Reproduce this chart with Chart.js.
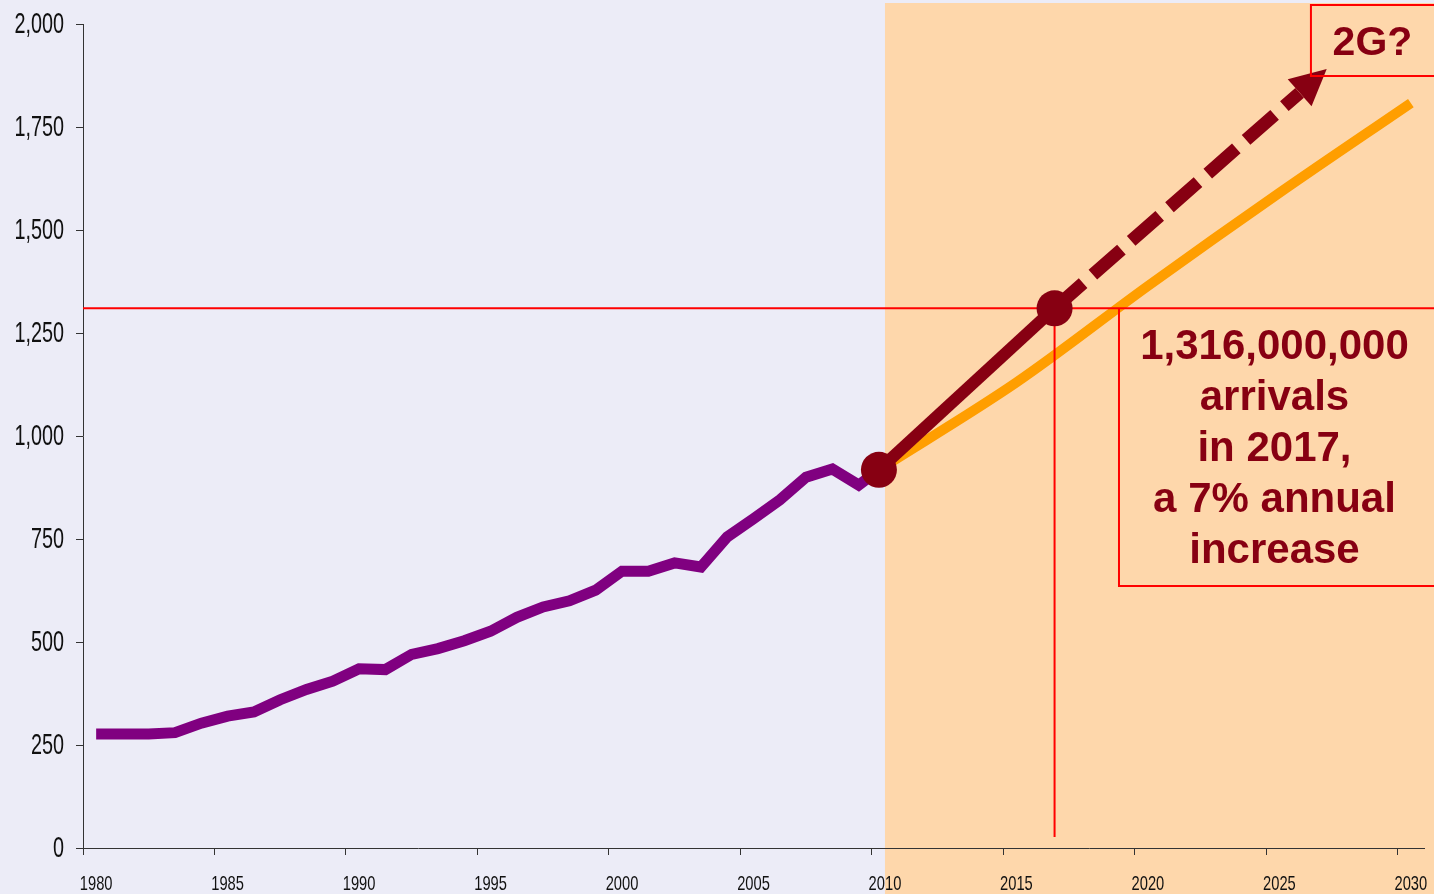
<!DOCTYPE html>
<html>
<head>
<meta charset="utf-8">
<script src="https://cdn.jsdelivr.net/npm/chart.js@4"></script>
<style>
  html, body { margin: 0; padding: 0; background: #ECECF7; }
  #caja { width: 1434px; height: 894px; position: relative; }
</style>
</head>
<body>
<div id="caja"><canvas id="grafico"></canvas></div>
<script>
// Llegadas de turistas internacionales (millones), 1980–2009 + proyecciones
const anios     = [1980, 1981, 1982, 1983, 1984, 1985, 1986, 1987, 1988, 1989,
                   1990, 1991, 1992, 1993, 1994, 1995, 1996, 1997, 1998, 1999,
                   2000, 2001, 2002, 2003, 2004, 2005, 2006, 2007, 2008, 2009];
const llegadas  = [277, 277, 277, 280, 303, 320, 330, 360, 385, 405,
                   435, 433, 470, 484, 503, 526, 560, 585, 600, 626,
                   672, 672, 692, 682, 755, 799, 845, 900, 920, 881];

// punto de partida (2010) y previsión tendencial
const inicio2010     = { x: 2010.27, y: 918 };
const aniosPrev      = [2015, 2020, 2025, 2030];
const previsionLenta = [1130, 1364, 1590, 1808];

// escenario 7 % anual
const meta2017    = { x: 2016.95, y: 1310 };
const flechaBase  = { x: 2026.27, y: 1833 };
const flechaPunta = { x: 2027.3, y: 1891 };

// ejes
const ticksY = [0, 250, 500, 750, 1000, 1250, 1500, 1750, 2000];

const textoCaja = ['1,316,000,000', 'arrivals', 'in 2017,', 'a 7% annual', 'increase'];

const GRANATE = '#870012';
const ROJO    = '#FF0000';

// los años se dibujan a mitad de intervalo (x + 0.5)
const serieHist = anios.map((a, i) => ({ x: a + 0.5, y: llegadas[i] }));
serieHist.push(inicio2010);
const seriePrev = [inicio2010].concat(aniosPrev.map((a, i) => ({ x: a + 0.5, y: previsionLenta[i] })));

// ───────────────────────── fondo de la zona de previsión
const fondo = {
  id: 'fondo',
  beforeDraw (chart) {
    const { ctx, scales: { x } } = chart;
    const x0 = x.getPixelForValue(2010.5);
    ctx.save();
    ctx.fillStyle = '#FED7AB';
    ctx.fillRect(x0, 3, chart.width - x0, chart.height - 3);
    ctx.restore();
  }
};

// ───────────────────────── etiquetas de ejes (letra estrecha)
function textoEstrecho (ctx, txt, px, py, escala) {
  ctx.save();
  ctx.translate(px, py);
  ctx.scale(escala, 1);
  ctx.fillText(txt, 0, 0);
  ctx.restore();
}

const etiquetas = {
  id: 'etiquetas',
  afterDraw (chart) {
    const { ctx, scales: { x, y } } = chart;
    ctx.save();
    ctx.fillStyle = '#111';
    ctx.textBaseline = 'alphabetic';

    ctx.font = '30px "Liberation Sans", Arial, sans-serif';
    ctx.textAlign = 'right';
    y.ticks.forEach(t => {
      textoEstrecho(ctx, t.value.toLocaleString('en-US'), 64, y.getPixelForValue(t.value) + 9, 0.66);
    });

    ctx.font = '21px "Liberation Sans", Arial, sans-serif';
    ctx.textAlign = 'center';
    x.ticks.forEach(t => {
      textoEstrecho(ctx, String(t.value), x.getPixelForValue(t.value + 0.5), 890, 0.7);
    });
    ctx.restore();
  }
};

// ───────────────────────── punta de flecha + cuadros de texto
const anotaciones = {
  id: 'anotaciones',
  afterDraw (chart) {
    const { ctx, scales: { x, y } } = chart;
    ctx.save();

    // punta de flecha
    const bx = x.getPixelForValue(flechaBase.x), by = y.getPixelForValue(flechaBase.y);
    const tx = x.getPixelForValue(flechaPunta.x), ty = y.getPixelForValue(flechaPunta.y);
    const ang = Math.atan2(ty - by, tx - bx);
    const w = 18;
    ctx.fillStyle = GRANATE;
    ctx.beginPath();
    ctx.moveTo(tx, ty);
    ctx.lineTo(bx + Math.sin(ang) * w, by - Math.cos(ang) * w);
    ctx.lineTo(bx - Math.sin(ang) * w, by + Math.cos(ang) * w);
    ctx.closePath();
    ctx.fill();

    // cuadro "2G?"
    const gx = x.getPixelForValue(2026.7);
    const gTop = y.getPixelForValue(2046), gBot = y.getPixelForValue(1874);
    ctx.strokeStyle = ROJO;
    ctx.lineWidth = 2;
    ctx.beginPath();
    ctx.moveTo(chart.width + 2, gTop);
    ctx.lineTo(gx, gTop);
    ctx.lineTo(gx, gBot);
    ctx.lineTo(chart.width + 2, gBot);
    ctx.stroke();

    ctx.fillStyle = GRANATE;
    ctx.font = 'bold 41px "Liberation Sans", Arial, sans-serif';
    ctx.textAlign = 'center';
    ctx.textBaseline = 'alphabetic';
    ctx.fillText('2G?', (gx + chart.width) / 2, gTop + 50);

    // cuadro de la meta 2017
    const cx = x.getPixelForValue(2019.4);
    const cTop = y.getPixelForValue(meta2017.y), cBot = y.getPixelForValue(636);
    ctx.beginPath();
    ctx.moveTo(cx, cTop);
    ctx.lineTo(cx, cBot);
    ctx.lineTo(chart.width + 2, cBot);
    ctx.stroke();

    ctx.font = 'bold 42px "Liberation Sans", Arial, sans-serif';
    const centro = (cx + chart.width) / 2 - 2;
    textoCaja.forEach((l, i) => ctx.fillText(l, centro, cTop + 51 + i * 51));

    ctx.restore();
  }
};

const ctx = document.getElementById('grafico').getContext('2d');
new Chart(ctx, {
  type: 'line',
  data: {
    datasets: [
      { // histórico
        data: serieHist, borderColor: '#800080', borderWidth: 11,
        pointRadius: 0, order: 5
      },
      { // previsión tendencial
        data: seriePrev, borderColor: '#FF9E00', borderWidth: 10,
        cubicInterpolationMode: 'monotone', borderCapStyle: 'butt',
        pointRadius: 0, order: 4
      },
      { // guía horizontal
        data: [{ x: 1980, y: meta2017.y }, { x: 2031.5, y: meta2017.y }],
        borderColor: ROJO, borderWidth: 2, pointRadius: 0, clip: false, order: 3
      },
      { // guía vertical
        data: [{ x: meta2017.x, y: meta2017.y }, { x: meta2017.x, y: 27 }],
        borderColor: ROJO, borderWidth: 2, pointRadius: 0, order: 3
      },
      { // tramo discontinuo hacia 2G
        data: [meta2017, flechaBase], borderColor: GRANATE, borderWidth: 13,
        borderDash: [38, 13], borderCapStyle: 'butt', pointRadius: 0,
        clip: false, order: 2
      },
      { // escenario 7 %
        data: [inicio2010, meta2017], borderColor: GRANATE, borderWidth: 12,
        pointRadius: 18, pointBackgroundColor: GRANATE, pointBorderWidth: 0,
        order: 1
      }
    ]
  },
  options: {
    responsive: true,
    maintainAspectRatio: false,
    animation: false,
    layout: { autoPadding: false, padding: { left: 76, top: 24, right: 10, bottom: 39 } },
    plugins: { legend: { display: false }, tooltip: { enabled: false } },
    scales: {
      x: {
        type: 'linear', min: 1980, max: 2031,
        ticks: { display: false, stepSize: 5, includeBounds: false },
        grid: { drawOnChartArea: false, drawTicks: true, tickLength: 7, color: '#333' },
        border: { color: '#333', width: 1 }
      },
      y: {
        min: 0, max: 2000,
        afterBuildTicks: s => { s.ticks = ticksY.map(v => ({ value: v })); },
        ticks: { display: false },
        grid: { drawOnChartArea: false, drawTicks: true, tickLength: 7, color: '#333' },
        border: { color: '#333', width: 1 }
      }
    }
  },
  plugins: [fondo, etiquetas, anotaciones]
});
</script>
</body>
</html>
